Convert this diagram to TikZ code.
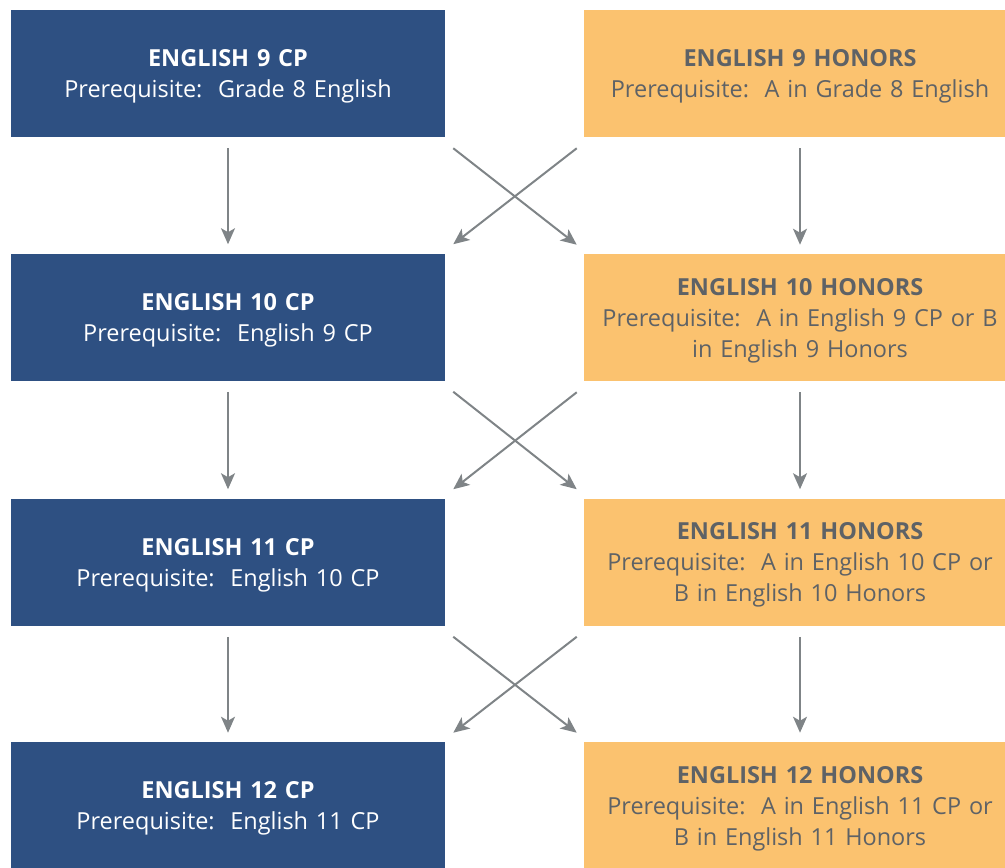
\documentclass[tikz,border=0pt]{standalone}
\usepackage{fontspec}
\setmainfont{Open Sans}
\usetikzlibrary{arrows.meta,calc}
\definecolor{cpblue}{HTML}{2E5082}
\definecolor{honorange}{HTML}{FBC26F}
\definecolor{hontext}{HTML}{5E6266}
\definecolor{arrowgrey}{HTML}{7F8487}
\newcommand{\rowpad}{\rule{0pt}{17.5pt}}
\tikzset{
	cpbox/.style={fill=cpblue, text=white, minimum width=325.5pt, minimum height=95.25pt, text width=320pt, align=center, inner sep=0pt, font=\fontsize{17.6}{23.25}\selectfont\frenchspacing},
	honbox/.style={fill=honorange, text=hontext, minimum width=324pt, minimum height=95.25pt, text width=316pt, align=center, inner sep=0pt, font=\fontsize{17.6}{23.25}\selectfont\frenchspacing},
	flow/.style={draw=arrowgrey, line width=1.5pt, -{Stealth[length=12pt, width=10.5pt, inset=3pt]}}
}
\begin{document}
\begin{tikzpicture}[x=0.75pt, y=-0.75pt]
	\useasboundingbox (0,0) rectangle (1005,867);

	\node [cpbox] (cp9) at (228,73.5) {\rowpad\textbf{ENGLISH 9 CP}\\Prerequisite:\ \ Grade 8 English};
	\node [honbox] (hon9) at (800,73.5) {\rowpad\textbf{ENGLISH 9 HONORS}\\Prerequisite:\ \ A in Grade 8 English};

	\node [cpbox] (cp10) at (228,317) {\rowpad\textbf{ENGLISH 10 CP}\\Prerequisite:\ \ English 9 CP};
	\node [honbox] (hon10) at (800,317.5) {\rowpad\textbf{ENGLISH 10 HONORS}\\Prerequisite:\ \ A in English 9 CP or B\\in English 9 Honors};

	\node [cpbox] (cp11) at (228,562) {\rowpad\textbf{ENGLISH 11 CP}\\Prerequisite:\ \ English 10 CP};
	\node [honbox] (hon11) at (800,562) {\rowpad\textbf{ENGLISH 11 HONORS}\\Prerequisite:\ \ A in English 10 CP or\\B in English 10 Honors};

	\node [cpbox] (cp12) at (228,805.5) {\rowpad\textbf{ENGLISH 12 CP}\\Prerequisite:\ \ English 11 CP};
	\node [honbox] (hon12) at (800,805.5) {\rowpad\textbf{ENGLISH 12 HONORS}\\Prerequisite:\ \ A in English 11 CP or\\B in English 11 Honors};

	% arrows between the years
	\foreach \a/\b/\c/\d in {cp9/hon9/cp10/hon10, cp10/hon10/cp11/hon11, cp11/hon11/cp12/hon12}{
		\draw [flow] ($(\a.south)+(0,11)$) -- ($(\c.north)+(0,-9)$);
		\draw [flow] ($(\b.south)+(0,11)$) -- ($(\d.north)+(0,-9)$);
		\draw [flow] ($(\a.south east)+(8,11)$) -- ($(\d.north west)+(-7,-9)$);
		\draw [flow] ($(\b.south west)+(-7,11)$) -- ($(\c.north east)+(8,-9)$);
	}
\end{tikzpicture}
\end{document}
